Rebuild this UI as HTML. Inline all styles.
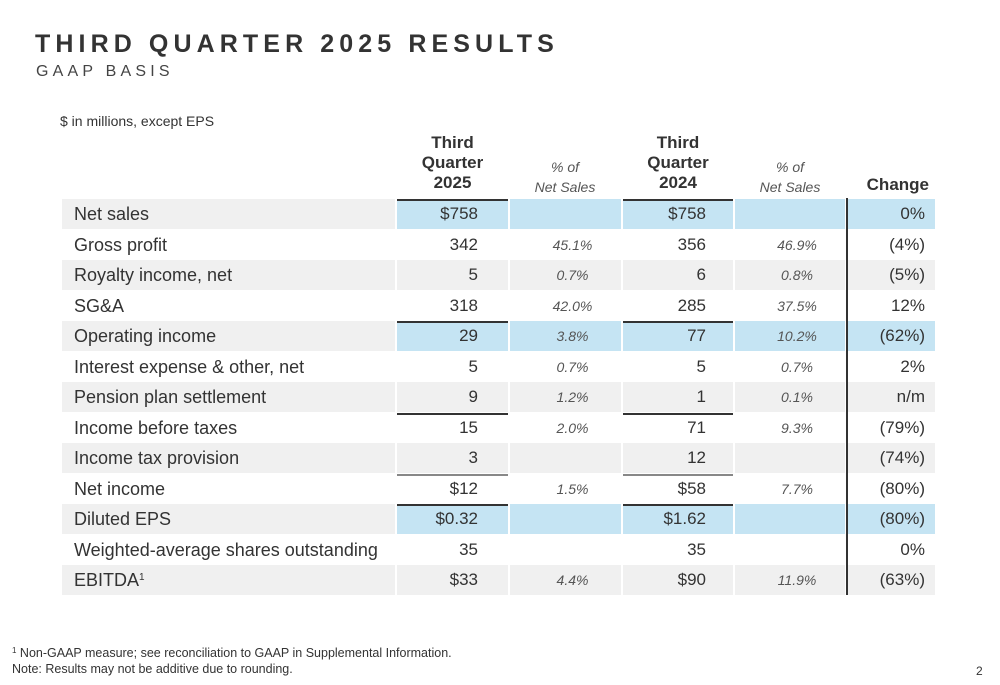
<!DOCTYPE html>
<html><head><meta charset="utf-8"><style>
*{margin:0;padding:0;box-sizing:border-box}
body{width:1000px;height:685px;background:#fff;position:relative;font-family:"Liberation Sans",sans-serif;color:#333;overflow:hidden}
.a{position:absolute;white-space:nowrap}
.h1{left:35px;top:30px;font-size:25px;font-weight:bold;letter-spacing:5.1px;color:#333}
.h2{left:36px;top:63px;font-size:16px;letter-spacing:4.2px;color:#444}
.hd{font-weight:bold;font-size:17px;text-align:center;line-height:20px;color:#333}
.hi{font-style:italic;font-size:14px;text-align:center;line-height:20px;color:#555}
.c{position:absolute;height:30px;font-size:17px;line-height:30px}
.lab{padding-left:12px;color:#333;font-size:18px}
.r{text-align:right}
.i{font-style:italic;font-size:14px;color:#555;text-align:center;padding-left:14px}
.g{background:#f0f0f0}.b{background:#c5e4f3}
.bt{box-shadow:inset 0 2px 0 #333}.gt{box-shadow:inset 0 2px 0 #888}
sup{font-size:10px;line-height:0;vertical-align:6px}
</style></head><body>
<div class="a h1">THIRD QUARTER 2025 RESULTS</div>
<div class="a h2">GAAP BASIS</div>
<div class="a" style="left:60px;top:113px;font-size:14px;color:#333">$ in millions, except EPS</div>
<div class="a hd" style="left:397px;top:133px;width:111px">Third<br>Quarter<br>2025</div>
<div class="a hi" style="left:510px;top:157px;width:110px">% of<br>Net Sales</div>
<div class="a hd" style="left:623px;top:133px;width:110px">Third<br>Quarter<br>2024</div>
<div class="a hi" style="left:735px;top:157px;width:110px">% of<br>Net Sales</div>
<div class="a hd" style="left:847px;top:175px;width:88px;text-align:right;padding-right:6px">Change</div>
<div id="t"></div>
<div class="a" style="left:846px;top:198px;width:2px;height:397px;background:#333"></div>
<div class="a" style="left:12px;top:646px;font-size:12.5px;color:#333"><sup style="font-size:8px;vertical-align:4px">1</sup> Non-GAAP measure; see reconciliation to GAAP in Supplemental Information.</div>
<div class="a" style="left:12px;top:662px;font-size:12.5px;color:#333">Note: Results may not be additive due to rounding.</div>
<div class="a" style="left:976px;top:664px;font-size:12px;color:#333">2</div>
<script>
var rows=[
["Net sales","$758","","$758","","0%","b","bt"],
["Gross profit","342","45.1%","356","46.9%","(4%)","",""],
["Royalty income, net","5","0.7%","6","0.8%","(5%)","g",""],
["SG&amp;A","318","42.0%","285","37.5%","12%","",""],
["Operating income","29","3.8%","77","10.2%","(62%)","b","bt"],
["Interest expense &amp; other, net","5","0.7%","5","0.7%","2%","",""],
["Pension plan settlement","9","1.2%","1","0.1%","n/m","g",""],
["Income before taxes","15","2.0%","71","9.3%","(79%)","","bt"],
["Income tax provision","3","","12","","(74%)","g",""],
["Net income","$12","1.5%","$58","7.7%","(80%)","","gt"],
["Diluted EPS","$0.32","","$1.62","","(80%)","b","bt"],
["Weighted-average shares outstanding","35","","35","","0%","",""],
["EBITDA<sup>1</sup>","$33","4.4%","$90","11.9%","(63%)","g",""]];
var h="";
rows.forEach(function(r,k){
var y=(199+k*30.5).toFixed(1);
var lb=(r[6]=="b"||r[6]=="g")?"g":"";
var vb=r[6];
h+='<div class="c lab '+lb+'" style="left:62px;top:'+y+'px;width:333px">'+r[0]+'</div>';
h+='<div class="c r '+vb+' '+r[7]+'" style="left:397px;top:'+y+'px;width:111px;padding-right:30px">'+r[1]+'</div>';
h+='<div class="c i '+vb+'" style="left:510px;top:'+y+'px;width:111px">'+r[2]+'</div>';
h+='<div class="c r '+vb+' '+r[7]+'" style="left:623px;top:'+y+'px;width:110px;padding-right:27px">'+r[3]+'</div>';
h+='<div class="c i '+vb+'" style="left:735px;top:'+y+'px;width:110px">'+r[4]+'</div>';
h+='<div class="c r '+vb+'" style="left:847px;top:'+y+'px;width:88px;padding-right:10px">'+r[5]+'</div>';
});
document.getElementById("t").innerHTML=h;
</script>
</body></html>
